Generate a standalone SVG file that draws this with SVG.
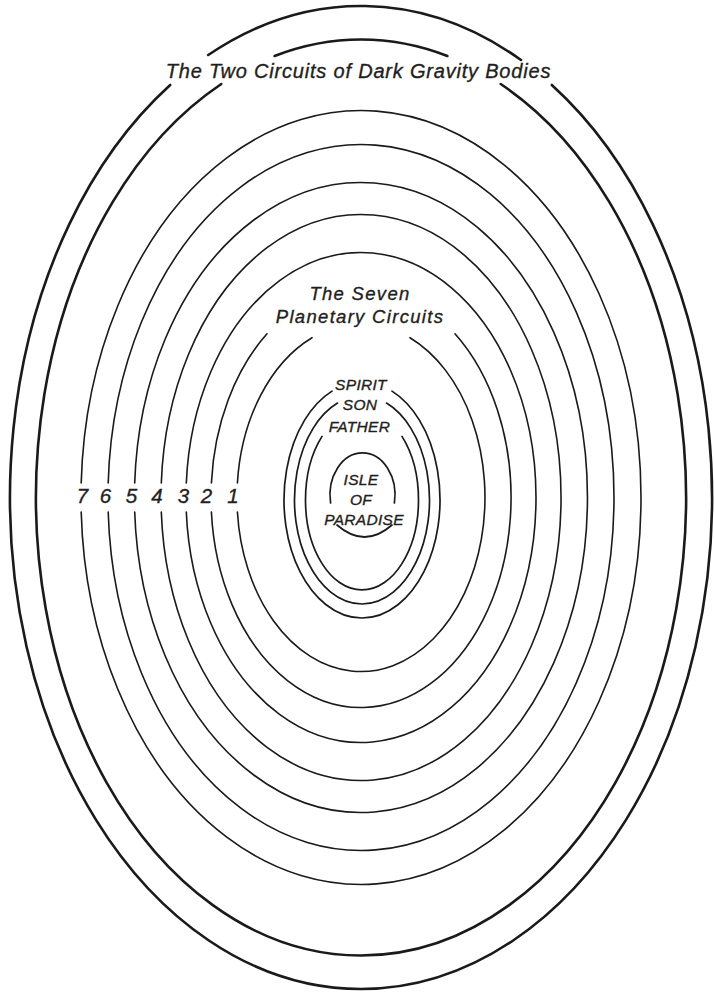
<svg xmlns="http://www.w3.org/2000/svg" width="714" height="992" viewBox="0 0 714 992">
  <style>
    .ring { fill: none; stroke: #1a1a1a; stroke-linecap: round; }
    .dark { stroke-width: 2.6; }
    .planet { stroke-width: 1.6; }
    .inner { stroke-width: 1.7; }
    text { font-family: "Liberation Sans", Arial, sans-serif; font-style: italic; fill: #1f1f1f; stroke: #1f1f1f; stroke-width: 0.35; text-anchor: middle; }
    .title { font-size: 20px; letter-spacing: 0.8px; }
    .label { font-size: 18.5px; letter-spacing: 1.3px; }
    .num { font-size: 20.5px; }
    .small { font-size: 15.5px; letter-spacing: 0.3px; }
  </style>
  <rect x="0" y="0" width="714" height="992" fill="#ffffff"/>

  <g id="dark-gravity-circuits">
    <g id="dark-outer">
      <path class="ring dark" d="M208.2,55 A351,491.5 0 0 1 521,60"/>
      <path class="ring dark" d="M551.8,85 A351,491.5 0 1 1 170.2,85"/>
    </g>
    <g id="dark-inner">
      <path class="ring dark" d="M274.6,56 A325,458 0 0 1 447.4,56"/>
      <path class="ring dark" d="M500.7,84 A325,458 0 1 1 221.3,84"/>
    </g>
  </g>

  <g id="planetary-circuits">
    <path id="circuit-7" class="ring planet" d="M81.2,512 A280,387 0 1 0 81.2,483"/>
    <path id="circuit-6" class="ring planet" d="M108.2,512 A253,353 0 1 0 108.2,483"/>
    <path id="circuit-5" class="ring planet" d="M134.7,512 A226.5,315 0 1 0 134.7,483"/>
    <path id="circuit-4" class="ring planet" d="M161.3,512 A200,283 0 1 0 161.3,483"/>
    <path id="circuit-3" class="ring planet" d="M186.3,512 A175,245 0 1 0 186.3,483"/>
    <g id="circuit-2">
      <path class="ring planet" d="M211.4,512 A150,210 0 1 0 455,333.8"/>
      <path class="ring planet" d="M267,333.8 A150,210 0 0 0 211.4,483"/>
    </g>
    <g id="circuit-1">
      <path class="ring planet" d="M237.4,512 A124,174 0 1 0 410,337.7"/>
      <path class="ring planet" d="M312,337.7 A124,174 0 0 0 237.4,483"/>
    </g>
  </g>

  <g id="deity-circuits">
    <path id="spirit-circuit" class="ring inner" d="M392,391.1 A78,118 0 1 1 332,391.1"/>
    <path id="son-circuit" class="ring inner" d="M386.5,403.1 A67.5,104 0 1 1 337.5,403.1"/>
    <path id="father-circuit" class="ring inner" d="M402,436.4 A56.5,90 0 1 1 322,436.4"/>
  </g>

  <g id="isle-of-paradise">
    <path class="ring inner" d="M330.6,503 A32.5,42 0 1 1 394.4,503"/>
    <path class="ring inner" d="M337,525 Q364.5,549 392,525"/>
    <text class="small" x="361" y="485">ISLE</text>
    <text class="small" x="361" y="505">OF</text>
    <text class="small" x="364" y="525">PARADISE</text>
  </g>

  <g id="labels">
    <text class="title" x="358.5" y="78">The Two Circuits of Dark Gravity Bodies</text>
    <text class="label" x="360" y="300">The Seven</text>
    <text class="label" x="360" y="323">Planetary Circuits</text>
    <text class="small" x="361" y="390">SPIRIT</text>
    <text class="small" x="360" y="410">SON</text>
    <text class="small" x="359.5" y="432">FATHER</text>
    <text class="num" x="82.5" y="503">7</text>
    <text class="num" x="105.5" y="503">6</text>
    <text class="num" x="131.5" y="503">5</text>
    <text class="num" x="157" y="503">4</text>
    <text class="num" x="183.5" y="503">3</text>
    <text class="num" x="206.5" y="503">2</text>
    <text class="num" x="233" y="503">1</text>
  </g>
</svg>
